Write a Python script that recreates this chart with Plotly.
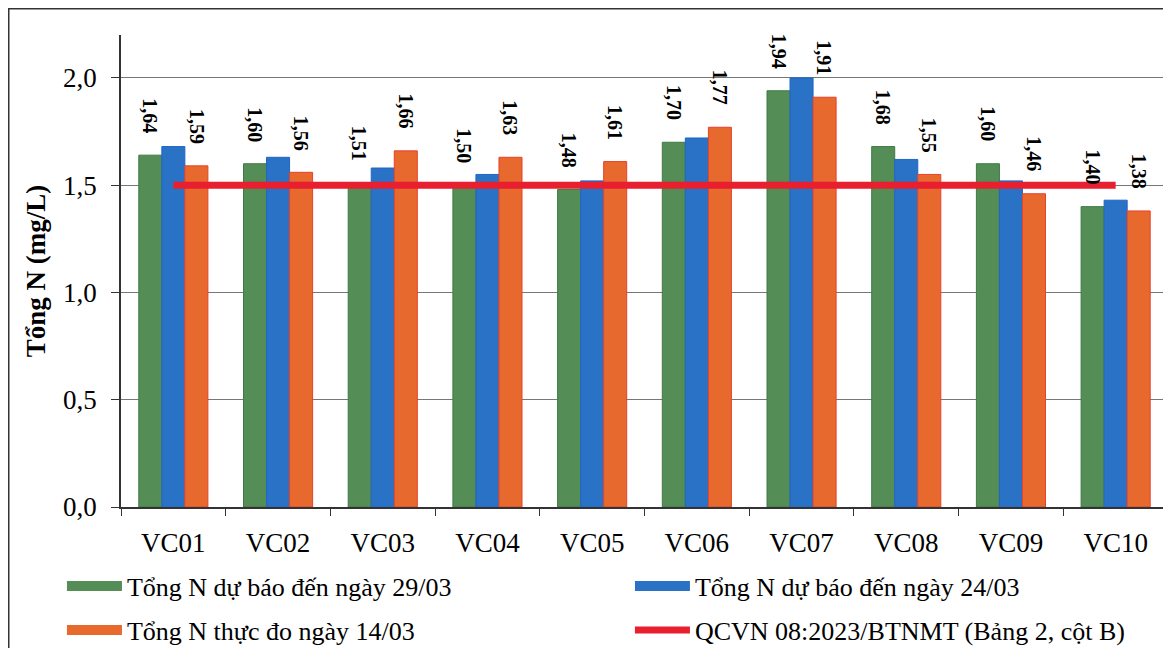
import plotly.graph_objects as go

categories = ["VC01", "VC02", "VC03", "VC04", "VC05", "VC06", "VC07", "VC08", "VC09", "VC10"]
forecast_2903 = [1.64, 1.60, 1.51, 1.50, 1.48, 1.70, 1.94, 1.68, 1.60, 1.40]
forecast_2403 = [1.68, 1.63, 1.58, 1.55, 1.52, 1.72, 2.00, 1.62, 1.52, 1.43]
measured_1403 = [1.59, 1.56, 1.66, 1.63, 1.61, 1.77, 1.91, 1.55, 1.46, 1.38]
limit_qcvn = [1.5] * len(categories)

names = [
    "Tổng N dự báo đến ngày 29/03",
    "Tổng N dự báo đến ngày 24/03",
    "Tổng N thực đo ngày 14/03",
    "QCVN 08:2023/BTNMT (Bảng 2, cột B)",
]

GREEN = "#558d56"
BLUE = "#2a72c6"
ORANGE = "#e8692d"
RED = "#e81f2f"
FONT = "Liberation Serif"
BARGAP = 0.34

fig = go.Figure()
bar_specs = [(forecast_2903, GREEN, "#3f7a44", "legend"),
             (forecast_2403, BLUE, "#1f66c8", "legend2"),
             (measured_1403, ORANGE, "#e8402a", "legend3")]
for k, (vals, col, edge, lg) in enumerate(bar_specs):
    fig.add_trace(go.Bar(x=categories, y=vals, name=names[k], showlegend=False,
                         marker=dict(color=col, line=dict(color=edge, width=1))))
    # legend entry drawn as a wide swatch (as in the reference)
    fig.add_trace(go.Scatter(x=[None], y=[None], name=names[k], mode="lines",
                             line=dict(color=col, width=12), legend=lg, hoverinfo="skip"))
fig.add_trace(go.Scatter(x=categories, y=limit_qcvn, name=names[3], mode="lines",
                         line=dict(color=RED, width=7), legend="legend4"))


def fmt(v):
    return f"{v:.2f}".replace(".", ",")


bw = (1 - BARGAP) / 3
annotations = []
for series, off in ((forecast_2903, -bw), (measured_1403, bw)):
    for i, v in enumerate(series):
        annotations.append(dict(
            x=i + off, y=v, xref="x", yref="y", text="<b>" + fmt(v) + "</b>",
            showarrow=False, textangle=90, yanchor="bottom", xanchor="center",
            yshift=20, font=dict(family=FONT, size=20, color="black")))


def leg(x, y):
    return dict(orientation="h", x=x, xanchor="left", y=y, yanchor="middle", itemwidth=55,
                font=dict(family=FONT, size=26, color="black"), bgcolor="rgba(0,0,0,0)")


fig.update_layout(
    width=1163, height=640,
    margin=dict(l=113, r=3, t=27, b=141, autoexpand=False),
    paper_bgcolor="white", plot_bgcolor="white",
    barmode="group", bargap=BARGAP, bargroupgap=0,
    separators=",.",
    showlegend=True,
    font=dict(family=FONT, color="black"),
    annotations=annotations,
    legend=leg(-0.0564, -0.1674),
    legend2=leg(0.4861, -0.1674),
    legend3=leg(-0.0564, -0.2606),
    legend4=leg(0.4861, -0.2606),
    shapes=[dict(type="rect", xref="paper", yref="paper", x0=-0.1072, x1=1.2, y0=-0.5, y1=1.0556,
                 line=dict(color="#333333", width=1.5), fillcolor="rgba(0,0,0,0)", layer="below")],
)
fig.update_xaxes(type="category", showline=True, linecolor="#333333", linewidth=1.5,
                 ticks="outside", tickson="boundaries", ticklen=7, tickcolor="#333333",
                 ticklabelstandoff=11,
                 tickfont=dict(family=FONT, size=27), showgrid=False)
fig.update_yaxes(range=[0, 2.2], tickvals=[0, 0.5, 1.0, 1.5, 2.0], tickformat=".1f",
                 showline=True, linecolor="#333333", linewidth=1.5,
                 ticks="outside", ticklen=8, tickcolor="#333333", ticklabelstandoff=9,
                 showgrid=True, gridcolor="#777777", gridwidth=1, zeroline=False,
                 tickfont=dict(family=FONT, size=27),
                 title=dict(text="<b>Tổng N (mg/L)</b>", font=dict(family=FONT, size=27), standoff=10))

fig.write_html("out.html")
